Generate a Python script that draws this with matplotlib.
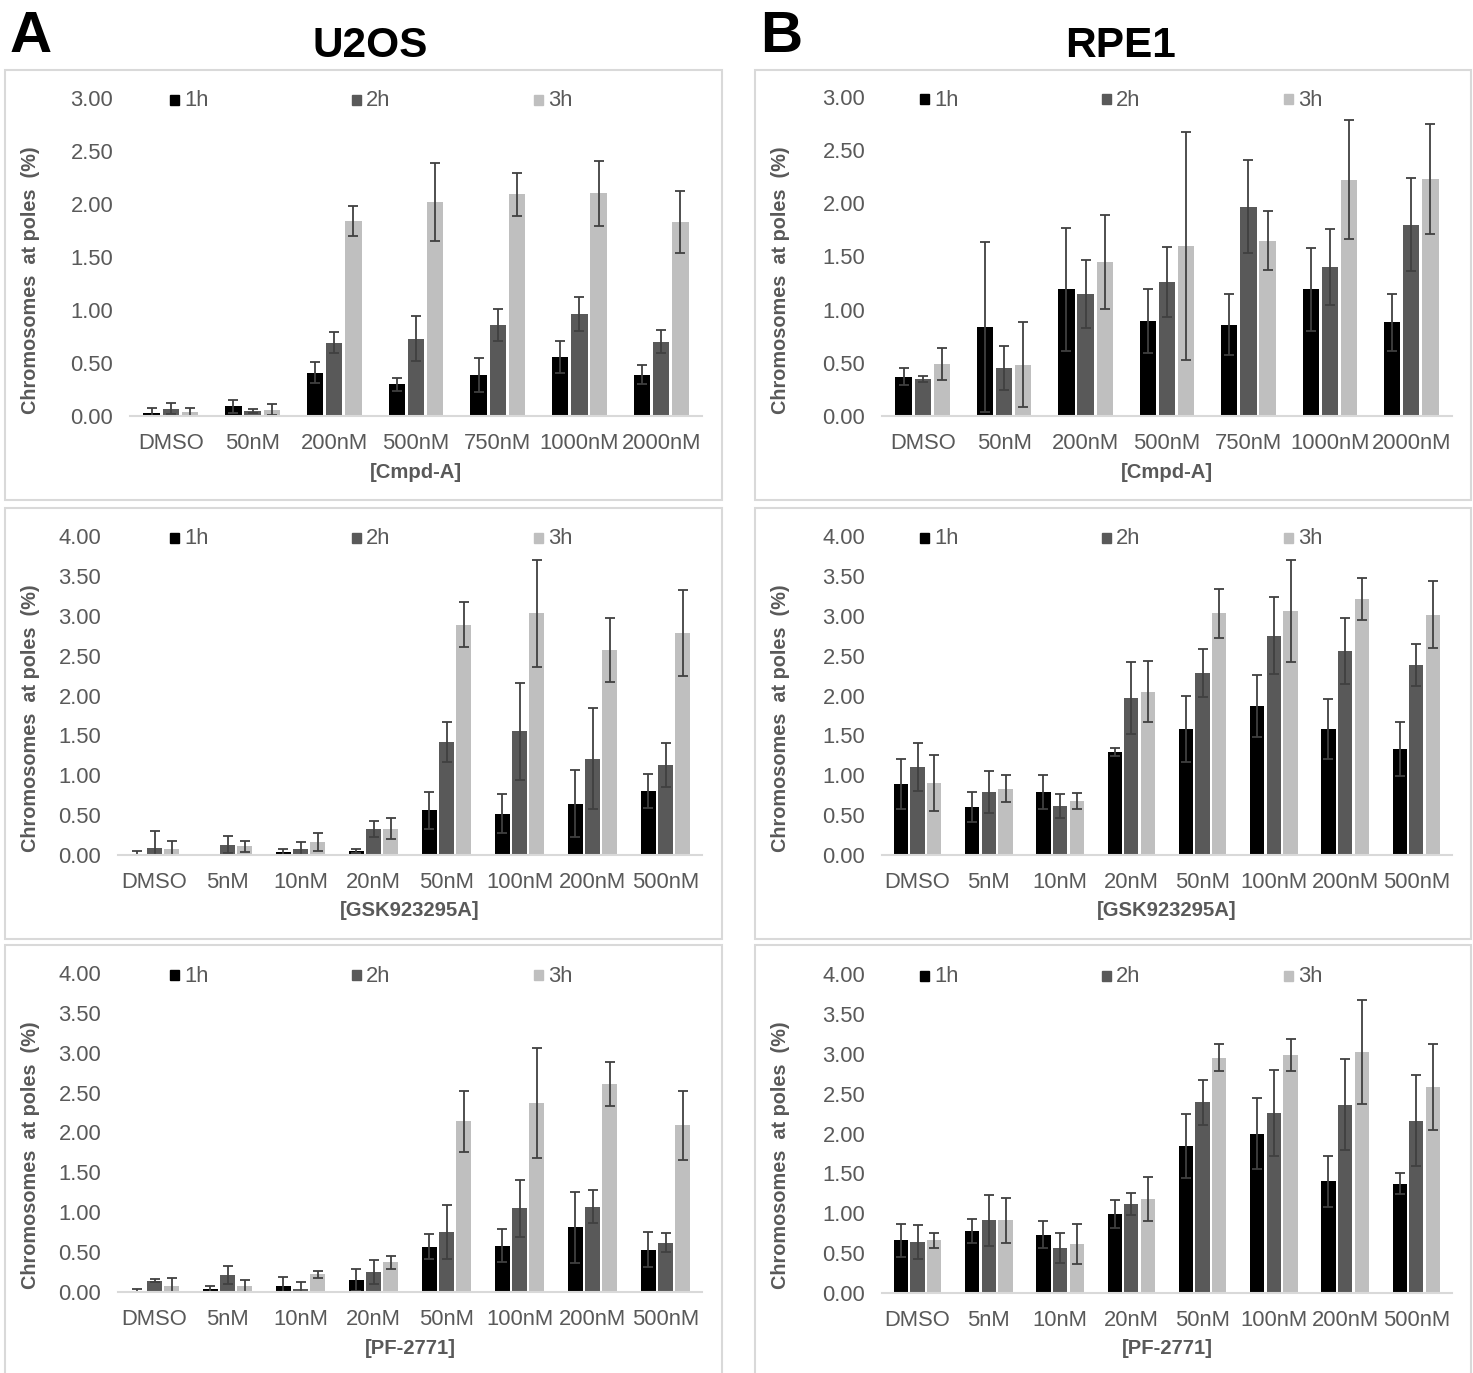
import numpy as np
import matplotlib
matplotlib.use('Agg')
import matplotlib.pyplot as plt
from matplotlib.patches import Rectangle

plt.rcParams['font.family'] = ['Liberation Sans', 'DejaVu Sans']

W, H = 1473, 1373

series = ['1h', '2h', '3h']
colors = ['#000000', '#595959', '#bfbfbf']

# ---- U2OS, Cmpd-A ----
cmpd_cats = ['DMSO', '50nM', '200nM', '500nM', '750nM', '1000nM', '2000nM']
u2os_cmpd_1h = [0.03, 0.09, 0.41, 0.30, 0.39, 0.56, 0.39]
u2os_cmpd_2h = [0.07, 0.05, 0.69, 0.73, 0.86, 0.96, 0.70]
u2os_cmpd_3h = [0.04, 0.06, 1.84, 2.02, 2.09, 2.10, 1.83]
u2os_cmpd_1h_err = [0.05, 0.06, 0.10, 0.06, 0.16, 0.15, 0.09]
u2os_cmpd_2h_err = [0.05, 0.02, 0.10, 0.21, 0.15, 0.16, 0.11]
u2os_cmpd_3h_err = [0.04, 0.05, 0.14, 0.37, 0.20, 0.31, 0.29]

# ---- RPE1, Cmpd-A ----
rpe1_cmpd_1h = [0.37, 0.84, 1.19, 0.89, 0.86, 1.19, 0.88]
rpe1_cmpd_2h = [0.35, 0.45, 1.15, 1.26, 1.97, 1.40, 1.80]
rpe1_cmpd_3h = [0.49, 0.48, 1.45, 1.60, 1.65, 2.22, 2.23]
rpe1_cmpd_1h_err = [0.08, 0.80, 0.58, 0.30, 0.29, 0.39, 0.27]
rpe1_cmpd_2h_err = [0.03, 0.21, 0.32, 0.33, 0.44, 0.36, 0.44]
rpe1_cmpd_3h_err = [0.15, 0.40, 0.44, 1.07, 0.28, 0.56, 0.52]

# ---- GSK923295A / PF-2771 categories ----
dose_cats = ['DMSO', '5nM', '10nM', '20nM', '50nM', '100nM', '200nM', '500nM']

u2os_gsk_1h = [0.01, 0.00, 0.04, 0.05, 0.56, 0.52, 0.64, 0.80]
u2os_gsk_2h = [0.09, 0.13, 0.08, 0.33, 1.42, 1.55, 1.21, 1.13]
u2os_gsk_3h = [0.08, 0.11, 0.16, 0.33, 2.89, 3.03, 2.57, 2.78]
u2os_gsk_1h_err = [0.04, 0.00, 0.04, 0.03, 0.23, 0.25, 0.42, 0.21]
u2os_gsk_2h_err = [0.21, 0.11, 0.08, 0.10, 0.25, 0.61, 0.63, 0.28]
u2os_gsk_3h_err = [0.09, 0.07, 0.11, 0.13, 0.28, 0.67, 0.40, 0.54]

rpe1_gsk_1h = [0.89, 0.60, 0.79, 1.29, 1.58, 1.87, 1.58, 1.33]
rpe1_gsk_2h = [1.10, 0.79, 0.62, 1.97, 2.28, 2.75, 2.56, 2.38]
rpe1_gsk_3h = [0.90, 0.83, 0.68, 2.05, 3.03, 3.06, 3.21, 3.01]
rpe1_gsk_1h_err = [0.31, 0.19, 0.21, 0.05, 0.41, 0.39, 0.37, 0.34]
rpe1_gsk_2h_err = [0.30, 0.26, 0.15, 0.45, 0.30, 0.48, 0.41, 0.26]
rpe1_gsk_3h_err = [0.35, 0.17, 0.10, 0.38, 0.31, 0.64, 0.26, 0.42]

u2os_pf_1h = [0.01, 0.04, 0.07, 0.15, 0.57, 0.58, 0.81, 0.53]
u2os_pf_2h = [0.14, 0.21, 0.04, 0.25, 0.75, 1.05, 1.07, 0.62]
u2os_pf_3h = [0.07, 0.07, 0.22, 0.37, 2.14, 2.37, 2.61, 2.09]
u2os_pf_1h_err = [0.03, 0.04, 0.12, 0.14, 0.16, 0.21, 0.45, 0.22]
u2os_pf_2h_err = [0.02, 0.11, 0.08, 0.15, 0.34, 0.36, 0.21, 0.12]
u2os_pf_3h_err = [0.11, 0.08, 0.04, 0.08, 0.38, 0.69, 0.28, 0.43]

rpe1_pf_1h = [0.66, 0.78, 0.73, 0.99, 1.84, 2.00, 1.40, 1.37]
rpe1_pf_2h = [0.64, 0.91, 0.56, 1.12, 2.39, 2.26, 2.36, 2.16]
rpe1_pf_3h = [0.66, 0.91, 0.61, 1.18, 2.95, 2.98, 3.02, 2.58]
rpe1_pf_1h_err = [0.21, 0.15, 0.17, 0.17, 0.40, 0.45, 0.32, 0.13]
rpe1_pf_2h_err = [0.21, 0.32, 0.19, 0.14, 0.28, 0.54, 0.57, 0.57]
rpe1_pf_3h_err = [0.09, 0.28, 0.25, 0.28, 0.17, 0.20, 0.65, 0.54]

fig = plt.figure(figsize=(W / 100, H / 100), dpi=100)

gray_txt = '#595959'
line_col = '#d9d9d9'


def px_axes(left, right, bottom, top):
    return fig.add_axes([left / W, 1 - bottom / H, (right - left) / W, (bottom - top) / H])


def panel(box, ax_px, cats, vals, errs, ymax, xtitle, ylab_y, legend_x):
    # outer frame
    bx0, by0, bx1, by1 = box
    fig.patches.append(Rectangle((bx0 / W, 1 - by1 / H), (bx1 - bx0) / W, (by1 - by0) / H,
                                 transform=fig.transFigure, fill=False,
                                 edgecolor=line_col, linewidth=1.5))
    ax = px_axes(*ax_px)
    x = np.arange(len(cats))
    bw = 0.2
    offs = [-0.235, 0, 0.235]
    for k in range(3):
        ax.bar(x + offs[k], vals[k], bw, color=colors[k], label=series[k],
               yerr=errs[k], ecolor='#404040',
               error_kw=dict(elinewidth=1.3, capsize=3.5, capthick=1.3))
    ax.set_xlim(-0.5, len(cats) - 0.5)
    ax.set_ylim(0, ymax)
    ticks = np.arange(0, ymax + 0.01, 0.5)
    ax.set_yticks(ticks)
    ax.set_yticklabels(['%.2f' % t for t in ticks])
    ax.set_xticks(x)
    ax.set_xticklabels(cats)
    for s in ['top', 'right', 'left']:
        ax.spines[s].set_visible(False)
    ax.spines['bottom'].set_color(line_col)
    ax.spines['bottom'].set_linewidth(1.5)
    ax.tick_params(axis='both', length=0, labelsize=15.8, labelcolor=gray_txt)
    ax.tick_params(axis='y', pad=12)
    ax.tick_params(axis='x', pad=12.5)
    ax.set_facecolor('none')

    # x title
    cx = (ax_px[0] + ax_px[1]) / 2
    fig.text(cx / W, 1 - (ax_px[2] + 56) / H, xtitle, ha='center', va='center',
             fontsize=14.6, fontweight='bold', color=gray_txt)
    # y label
    fig.text((bx0 + 26) / W, 1 - ylab_y / H, 'Chromosomes  at poles  (%)', rotation=90,
             ha='center', va='center', fontsize=14.3, fontweight='bold', color=gray_txt)
    # legend
    for k in range(3):
        lx = legend_x + 182 * k
        ly = ax_px[3] + 2
        fig.patches.append(Rectangle(((lx - 7) / W, 1 - (ly + 5) / H), 9 / W, 10 / H,
                                     transform=fig.transFigure, color=colors[k]))
        fig.text((lx + 7) / W, 1 - (ly + 1) / H, series[k], ha='left', va='center',
                 fontsize=15.8, color=gray_txt)
    return ax


# column A (U2OS)
panel((5, 70, 722, 500), (130, 702, 416, 98), cmpd_cats,
      [u2os_cmpd_1h, u2os_cmpd_2h, u2os_cmpd_3h],
      [u2os_cmpd_1h_err, u2os_cmpd_2h_err, u2os_cmpd_3h_err], 3.0, '[Cmpd-A]', 280, 177)
panel((5, 508, 722, 939), (118, 702, 855, 536), dose_cats,
      [u2os_gsk_1h, u2os_gsk_2h, u2os_gsk_3h],
      [u2os_gsk_1h_err, u2os_gsk_2h_err, u2os_gsk_3h_err], 4.0, '[GSK923295A]', 718, 177)
panel((5, 945, 722, 1380), (118, 702, 1292, 973), dose_cats,
      [u2os_pf_1h, u2os_pf_2h, u2os_pf_3h],
      [u2os_pf_1h_err, u2os_pf_2h_err, u2os_pf_3h_err], 4.0, '[PF-2771]', 1155, 177)

# column B (RPE1)
panel((755, 70, 1471, 500), (882, 1452, 416, 97), cmpd_cats,
      [rpe1_cmpd_1h, rpe1_cmpd_2h, rpe1_cmpd_3h],
      [rpe1_cmpd_1h_err, rpe1_cmpd_2h_err, rpe1_cmpd_3h_err], 3.0, '[Cmpd-A]', 280, 927)
panel((755, 508, 1471, 939), (882, 1452, 855, 536), dose_cats,
      [rpe1_gsk_1h, rpe1_gsk_2h, rpe1_gsk_3h],
      [rpe1_gsk_1h_err, rpe1_gsk_2h_err, rpe1_gsk_3h_err], 4.0, '[GSK923295A]', 718, 927)
panel((755, 945, 1471, 1380), (882, 1452, 1293, 974), dose_cats,
      [rpe1_pf_1h, rpe1_pf_2h, rpe1_pf_3h],
      [rpe1_pf_1h_err, rpe1_pf_2h_err, rpe1_pf_3h_err], 4.0, '[PF-2771]', 1155, 927)

# panel letters and titles
fig.text(31 / W, 1 - 37 / H, 'A', ha='center', va='center', fontsize=42, fontweight='bold')
fig.text(781 / W, 1 - 37 / H, 'B', ha='center', va='center', fontsize=42, fontweight='bold')
fig.text(370 / W, 1 - 46 / H, 'U2OS', ha='center', va='center', fontsize=30.5, fontweight='bold')
fig.text(1120 / W, 1 - 46 / H, 'RPE1', ha='center', va='center', fontsize=30.5, fontweight='bold')

fig.savefig('out.png', dpi=100, facecolor='white')
